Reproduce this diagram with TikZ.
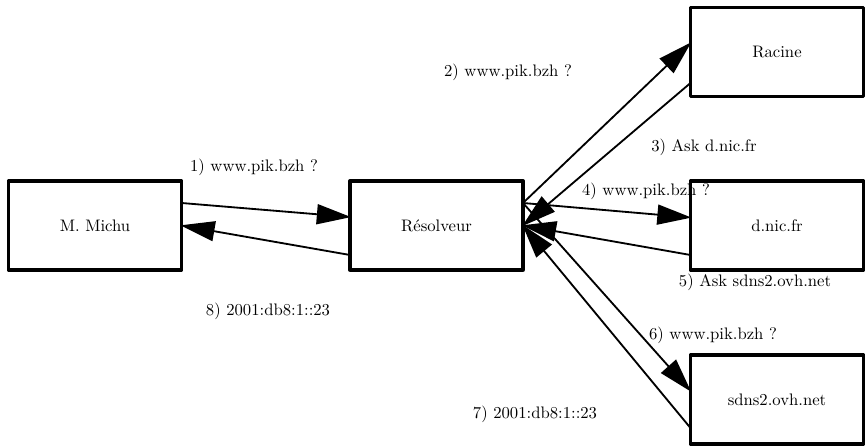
\documentclass[tikz,border=0pt]{standalone}
\usetikzlibrary{arrows.meta}
\begin{document}
\begin{tikzpicture}[x=0.6pt,y=-0.6pt,
  box/.style={draw,line width=2pt,minimum width=103.8pt,minimum height=53.4pt,inner sep=0pt,outer sep=0pt,line join=round},
  lbl/.style={inner sep=0pt},
  conn/.style={line width=1.1pt,shorten >=-0.6pt,-{Triangle[length=20.5pt,width=12pt]}}]
\useasboundingbox (0,0) rectangle (865,446);
\node[box] (michu) at (95,225.5) {M. Michu};
\node[box] (res) at (436.5,225.5) {Résolveur};
\node[box] (racine) at (777,52) {Racine};
\node[box] (dnic) at (777,225.5) {d.nic.fr};
\node[box] (sdns) at (777,399.5) {sdns2.ovh.net};

\node[lbl] (l1) at (254,167) {1) www.pik.bzh ?};
\node[lbl] (l2) at (508,72) {2) www.pik.bzh ?};
\node[lbl] (l3) at (704,147) {3) Ask d.nic.fr};
\node[lbl] (l5) at (755,282) {5) Ask sdns2.ovh.net};
\node[lbl] (l6) at (713,335) {6) www.pik.bzh ?};
\node[lbl] (l7) at (535,414) {7) 2001:db8:1::23};
\node[lbl] (l8) at (268,311) {8) 2001:db8:1::23};

\draw[conn] ([yshift=13.5pt]michu.east) -- ([yshift=5.1pt]res.west);
\draw[conn] ([yshift=-17.7pt]res.west) -- (michu.east);
\draw[conn] ([yshift=13.5pt]res.east) -- ([yshift=5.4pt]racine.west);
\draw[conn] ([yshift=-18.6pt]racine.west) -- (res.east);
\draw[conn] ([yshift=13.5pt]res.east) -- ([yshift=4.8pt]dnic.west);
\draw[conn] ([yshift=-17.7pt]dnic.west) -- (res.east);
\draw[conn] ([yshift=13.5pt]res.east) -- ([yshift=5.1pt]sdns.west);
\draw[conn] ([yshift=-17.1pt]sdns.west) -- (res.east);

\node[lbl] (l4) at (646,191) {4) www.pik.bzh ?};
\end{tikzpicture}
\end{document}
